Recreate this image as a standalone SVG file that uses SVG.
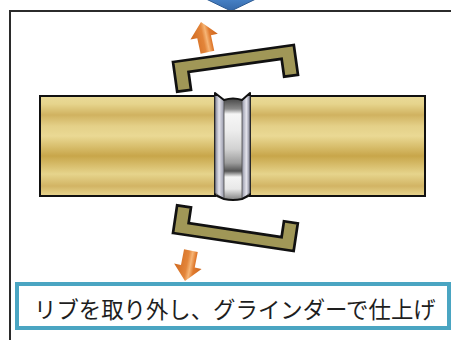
<svg xmlns="http://www.w3.org/2000/svg" width="451" height="340" viewBox="0 0 451 340">
  <defs>
    <!-- brass-coloured pipe shading, horizontal bands -->
    <linearGradient id="gold" x1="0" y1="0" x2="0" y2="1">
      <stop offset="0" stop-color="#e9da98"/>
      <stop offset="0.08" stop-color="#e6d48c"/>
      <stop offset="0.19" stop-color="#d0b260"/>
      <stop offset="0.3" stop-color="#e4d088"/>
      <stop offset="0.4" stop-color="#ead994"/>
      <stop offset="0.6" stop-color="#c8a64a"/>
      <stop offset="0.78" stop-color="#e6d48c"/>
      <stop offset="0.9" stop-color="#d2b464"/>
      <stop offset="1" stop-color="#e8d690"/>
    </linearGradient>
    <!-- groove faces of the weld -->
    <linearGradient id="bevelL" x1="0" y1="0" x2="1" y2="0">
      <stop offset="0" stop-color="#7e8092"/>
      <stop offset="0.45" stop-color="#e4e4ec"/>
      <stop offset="1" stop-color="#9597a8"/>
    </linearGradient>
    <linearGradient id="bevelR" x1="1" y1="0" x2="0" y2="0">
      <stop offset="0" stop-color="#7e8092"/>
      <stop offset="0.45" stop-color="#e4e4ec"/>
      <stop offset="1" stop-color="#9597a8"/>
    </linearGradient>
    <!-- weld bead shading -->
    <linearGradient id="bead" x1="0" y1="0" x2="0" y2="1">
      <stop offset="0" stop-color="#4a4a4a"/>
      <stop offset="0.1" stop-color="#8a8a8a"/>
      <stop offset="0.15" stop-color="#f6f6f6"/>
      <stop offset="0.32" stop-color="#ececec"/>
      <stop offset="0.5" stop-color="#d2d2d2"/>
      <stop offset="0.64" stop-color="#9c9c9c"/>
      <stop offset="0.72" stop-color="#555"/>
      <stop offset="0.78" stop-color="#f4f4f4"/>
      <stop offset="0.9" stop-color="#e8e8e8"/>
      <stop offset="1" stop-color="#8a8a8a"/>
    </linearGradient>
    <linearGradient id="orange" x1="0" y1="0" x2="1" y2="0">
      <stop offset="0" stop-color="#d0691f"/>
      <stop offset="0.45" stop-color="#e3853a"/>
      <stop offset="0.58" stop-color="#f6b576"/>
      <stop offset="0.72" stop-color="#e07a2e"/>
      <stop offset="1" stop-color="#cc661e"/>
    </linearGradient>
    <linearGradient id="blue" x1="0" y1="0" x2="0" y2="1">
      <stop offset="0" stop-color="#4a86cc"/>
      <stop offset="1" stop-color="#3568a8"/>
    </linearGradient>
    <style>
      .pipe { fill: url(#gold); stroke: #111; stroke-width: 2; }
      .rib { fill: #a09757; stroke: #111; stroke-width: 2.7; stroke-linejoin: miter; }
      .arrow { fill: url(#orange); }
      .caption { font-family: "Noto Sans CJK JP", "Noto Sans", sans-serif; font-size: 22.4px; fill: #1e1e1e; }
    </style>
  </defs>

  <!-- step marker from the previous panel -->
  <g id="step-marker">
    <polygon points="202,-3 260,-3 231,11" fill="url(#blue)" stroke="#2c5a92" stroke-width="1"/>
  </g>

  <!-- panel frame -->
  <g id="frame">
    <path d="M10,340 V11 H451" fill="none" stroke="#2b2b2b" stroke-width="2"/>
  </g>

  <!-- pipes -->
  <g id="pipe-left">
    <rect class="pipe" x="40" y="96" width="175" height="100"/>
  </g>
  <g id="pipe-right">
    <rect class="pipe" x="250" y="96" width="175" height="100"/>
  </g>

  <!-- butt weld between the pipes -->
  <g id="weld">
    <rect x="223" y="99" width="20" height="100" fill="url(#bead)"/>
    <polygon points="215,93 224,100 224,199 215,193" fill="url(#bevelL)" stroke="#4a4a4a" stroke-width="0.8"/>
    <polygon points="250,93 242,100 242,199 250,193" fill="url(#bevelR)" stroke="#4a4a4a" stroke-width="0.8"/>
    <path d="M215,96 V93 L224,100 Q233,97 242,100 L250,93 V96" fill="none" stroke="#111" stroke-width="2" stroke-linejoin="round"/>
    <path d="M215,195 L224,199 Q233,201 242,199 L250,195" fill="none" stroke="#111" stroke-width="2" stroke-linejoin="round"/>
  </g>

  <!-- backing rib above, being lifted off -->
  <g id="rib-top" transform="translate(173,62) rotate(-8)">
    <path class="rib" d="M0,0 H122 V30 H108 V12 H14 V30 H0 Z"/>
  </g>

  <!-- backing rib below, being removed -->
  <g id="rib-bottom" transform="translate(173,233) rotate(8.5)">
    <path class="rib" d="M0,0 H122 V-28 H108 V-12 H14 V-28 H0 Z"/>
  </g>

  <!-- caption -->
  <g id="caption">
    <rect x="17" y="284" width="432" height="44" fill="#fff" stroke="#4aa5c2" stroke-width="4"/>
    <text class="caption" x="34" y="318">リブを取り外し、グラインダーで仕上げ</text>
  </g>

  <!-- removal direction arrows -->
  <g id="arrows">
    <g id="arrow-up" transform="translate(201,22) rotate(-12)">
      <polygon class="arrow" points="0,0 14,15 7,15 7,31 -7,31 -7,15 -14,15"/>
    </g>
    <g id="arrow-down" transform="translate(185,281) rotate(11)">
      <polygon class="arrow" points="0,0 14,-15 7,-15 7,-31 -7,-31 -7,-15 -14,-15"/>
    </g>
  </g>
</svg>
